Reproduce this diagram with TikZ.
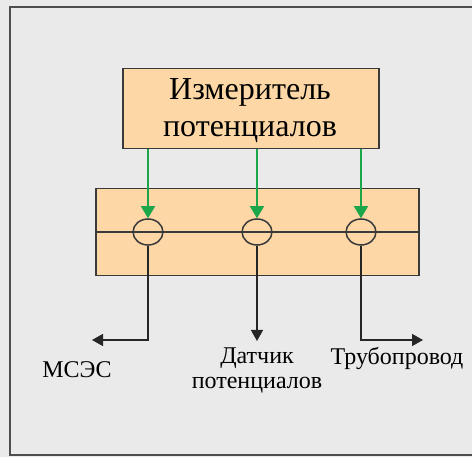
\documentclass[tikz,border=0pt]{standalone}
\usepackage{fontspec}
\setmainfont{Liberation Serif}
\usetikzlibrary{arrows.meta,shapes.geometric}
\definecolor{bg}{HTML}{EAEAEA}
\definecolor{boxfill}{HTML}{FDD8A6}
\definecolor{edge}{HTML}{3A3A3A}
\definecolor{feed}{HTML}{1BA64A}
\tikzset{
  panel/.style={draw=edge, line width=1.5pt, fill=boxfill},
  tap/.style={draw=edge, line width=1.5pt, fill=boxfill, ellipse, minimum width=30pt, minimum height=26pt, inner sep=0pt},
  probe/.style={draw=feed, line width=1.5pt, -{Triangle[width=14pt,length=12pt]}},
  lead/.style={draw=black!85, line width=1.5pt, -{Triangle[width=12pt,length=11pt]}},
  label/.style={font=\fontsize{24}{25}\selectfont, align=center, inner sep=0pt}
}
\begin{document}
\begin{tikzpicture}[x=1pt,y=-1pt]
\useasboundingbox (0,0) rectangle (472,457);
% frame
\fill[bg] (0,0) rectangle (472,457);
\draw[edge!90, line width=1.4pt, fill=bg] (10,7) rectangle (480,455);
% meter
\node[panel, minimum width=256pt, minimum height=80pt, anchor=north west] (meter) at (122,68) {};
\node[font=\fontsize{32}{37}\selectfont, align=center, inner sep=0pt, anchor=base] (mtext) at (250,137)
      {Измеритель\\потенциалов};
% terminal block
\node[panel, minimum width=323pt, minimum height=87pt, anchor=north west] (block) at (95,188) {};
\draw[edge, line width=1.5pt] (block.west |- 0,232) coordinate (bl) -- (block.east |- 0,232) coordinate (br);
\node[tap] (t1) at (148,232) {};
\node[tap] (t2) at (257,232) {};
\node[tap] (t3) at (361,232) {};
\draw[edge, line width=1.5pt] (t1.west) -- (t1.east) (t2.west) -- (t2.east) (t3.west) -- (t3.east);
% feeds from the meter
\draw[probe] (meter.south -| t1) -- (t1.north);
\draw[probe] (meter.south -| t2) -- (t2.north);
\draw[probe] (meter.south -| t3) -- (t3.north);
% outputs
\coordinate (c1) at (148,340);
\coordinate (c3) at (361,340);
\coordinate (e1) at (92,340);
\coordinate (e3) at (423,340);
\draw[lead] (t1.south) -- (c1) -- (e1);
\draw[lead] (t2.south) -- (257,341) coordinate (e2);
\draw[lead] (t3.south) -- (c3) -- (e3);
% labels
\node[label, anchor=base] (m) at (77,378) {МСЭС};
\node[label, anchor=base] (d) at (257,389) {Датчик\\потенциалов};
\node[label, anchor=base] (p) at (397,365) {Трубопровод};
\end{tikzpicture}
\end{document}
